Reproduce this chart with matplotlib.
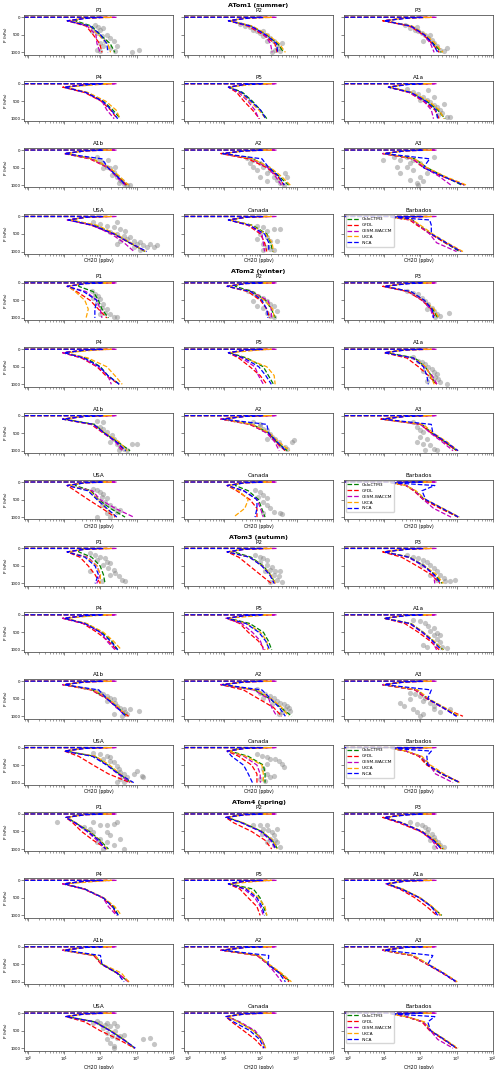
import matplotlib
matplotlib.use('Agg')
import matplotlib.pyplot as plt

# --- labels ---
SEASONS = ['ATom1 (summer)', 'ATom2 (winter)', 'ATom3 (autumn)', 'ATom4 (spring)']
REGIONS = ['P1', 'P2', 'P3', 'P4', 'P5', 'A1a', 'A1b', 'A2', 'A3', 'USA', 'Canada', 'Barbados']
MODELS = ['OsloCTM3', 'GFDL', 'CESM-WACCM', 'UKCA', 'INCA']
COLORS = ['g', 'r', 'm', 'orange', 'b']

# pressure levels (hPa) of the model profiles
P_LEVELS = [0, 1, 20, 100, 250, 500, 750, 1000]
X_START = 0.5                       # CH2O at model top
TOP_X = [80, 150, 280, 200, 120]    # CH2O at 1 hPa, per model

# model CH2O at 20, 100, 250, 500, 750, 1000 hPa, one row per region
OSLO_1 = [[32, 20, 57, 98, 186, 250], [40, 14, 55, 150, 300, 440], [40, 10, 55, 130, 230, 380],
          [60, 10, 40, 120, 220, 360], [40, 14, 32, 60, 100, 150], [40, 14, 55, 150, 300, 480],
          [40, 11, 60, 170, 300, 520], [40, 9, 60, 180, 330, 600], [40, 10, 70, 150, 450, 1400],
          [40, 14, 70, 250, 650, 1700], [40, 14, 60, 150, 190, 220], [15, 60, 90, 200, 480, 1200]]
GFDL_1 = [[40, 12, 40, 63, 95, 110], [40, 13, 45, 120, 250, 290], [40, 9, 50, 120, 210, 330],
          [40, 9, 36, 105, 190, 290], [40, 13, 22, 35, 60, 95], [40, 13, 48, 120, 250, 330],
          [40, 10, 50, 160, 280, 540], [40, 8, 45, 150, 300, 450], [40, 9, 60, 120, 400, 1750],
          [40, 13, 55, 230, 620, 1800], [40, 13, 45, 100, 130, 150], [15, 50, 80, 190, 480, 1400]]
CESM_1 = [[40, 13, 43, 75, 80, 98], [40, 13, 50, 130, 190, 210], [40, 10, 52, 125, 190, 240],
          [50, 10, 38, 110, 150, 240], [40, 13, 25, 45, 70, 90], [40, 13, 50, 125, 200, 230],
          [40, 10, 55, 165, 270, 480], [40, 9, 55, 160, 260, 380], [40, 9, 60, 130, 330, 700],
          [40, 12, 60, 200, 450, 850], [40, 13, 50, 110, 120, 130], [15, 55, 90, 180, 280, 1000]]
UKCA_1 = [[32, 16, 50, 88, 160, 190], [35, 15, 60, 160, 330, 490], [35, 11, 60, 140, 260, 420],
          [100, 11, 45, 140, 270, 350], [60, 14, 28, 50, 90, 140], [35, 15, 60, 170, 330, 450],
          [35, 12, 60, 180, 340, 600], [35, 10, 60, 190, 380, 670], [35, 10, 70, 150, 480, 1900],
          [35, 15, 80, 270, 700, 1800], [35, 15, 55, 140, 210, 230], [15, 60, 100, 220, 550, 1500]]
INCA_1 = [[50, 12, 52, 100, 150, 160], [50, 13, 55, 140, 280, 300], [50, 10, 55, 130, 220, 300],
          [50, 10, 40, 115, 200, 300], [40, 13, 30, 55, 100, 140], [50, 13, 55, 140, 270, 300],
          [40, 10, 110, 160, 290, 500], [40, 9, 110, 170, 320, 460], [40, 10, 180, 120, 420, 1600],
          [40, 13, 60, 240, 650, 1900], [40, 13, 50, 130, 170, 170], [15, 180, 200, 200, 520, 1300]]

OSLO_2 = [[25, 25, 63, 88, 110, 166], [30, 20, 60, 140, 200, 260], [40, 10, 50, 120, 220, 300],
          [50, 10, 40, 100, 160, 340], [40, 14, 42, 120, 166, 230], [30, 12, 70, 134, 200, 255],
          [30, 10, 70, 130, 300, 660], [35, 9, 60, 170, 280, 550], [35, 9, 110, 210, 480, 1000],
          [25, 20, 55, 88, 186, 480], [25, 20, 46, 88, 108, 134], [15, 40, 70, 130, 380, 1100]]
GFDL_2 = [[35, 12, 22, 52, 88, 150], [35, 12, 45, 100, 150, 180], [40, 9, 45, 110, 200, 260],
          [40, 9, 30, 80, 140, 330], [40, 13, 25, 51, 98, 150], [35, 10, 42, 88, 166, 283],
          [35, 9, 55, 120, 280, 450], [35, 8, 50, 160, 260, 480], [35, 8, 100, 200, 450, 1000],
          [35, 12, 20, 46, 110, 255], [35, 12, 22, 51, 80, 80], [15, 40, 65, 120, 350, 1100]]
CESM_2 = [[40, 12, 40, 80, 98, 110], [40, 12, 55, 160, 200, 200], [40, 10, 48, 115, 190, 230],
          [40, 9, 32, 85, 160, 200], [40, 13, 30, 70, 88, 121], [40, 10, 60, 130, 210, 290],
          [40, 9, 60, 125, 260, 400], [40, 8, 55, 150, 250, 330], [40, 9, 100, 190, 400, 800],
          [40, 12, 60, 98, 255, 830], [40, 12, 35, 80, 100, 120], [15, 40, 70, 120, 230, 700]]
UKCA_2 = [[35, 13, 20, 37, 46, 40], [35, 13, 55, 130, 220, 240], [35, 11, 52, 125, 240, 320],
          [80, 11, 45, 150, 250, 400], [100, 14, 37, 150, 240, 255], [35, 11, 65, 140, 190, 240],
          [35, 10, 65, 140, 330, 550], [35, 9, 60, 180, 320, 650], [35, 9, 120, 230, 550, 1100],
          [35, 13, 50, 85, 140, 280], [35, 13, 25, 46, 37, 18], [15, 40, 75, 140, 420, 1200]]
INCA_2 = [[40, 12, 34, 80, 70, 70], [40, 12, 55, 110, 150, 160], [50, 10, 55, 130, 210, 230],
          [40, 10, 35, 95, 160, 330], [40, 13, 35, 90, 140, 200], [40, 10, 64, 121, 150, 166],
          [40, 9, 65, 130, 280, 500], [40, 9, 150, 170, 290, 500], [40, 9, 200, 220, 500, 1100],
          [40, 12, 45, 80, 150, 283], [40, 12, 34, 80, 80, 71], [15, 250, 110, 140, 400, 1150]]

OSLO_3 = [[25, 25, 57, 98, 121, 134], [25, 18, 55, 120, 190, 260], [40, 10, 50, 130, 250, 400],
          [50, 10, 40, 110, 205, 300], [30, 13, 51, 121, 166, 205], [35, 10, 55, 120, 230, 430],
          [35, 10, 60, 160, 300, 550], [35, 9, 70, 180, 360, 740], [35, 9, 80, 160, 420, 1100],
          [30, 11, 70, 160, 330, 700], [25, 14, 46, 121, 134, 134], [15, 40, 100, 160, 380, 1200]]
GFDL_3 = [[35, 12, 27, 46, 71, 98], [35, 12, 25, 50, 100, 200], [40, 9, 30, 80, 200, 350],
          [40, 9, 33, 80, 166, 283], [40, 12, 27, 46, 88, 134], [35, 10, 37, 88, 186, 330],
          [35, 9, 55, 150, 280, 600], [35, 8, 34, 88, 230, 390], [35, 9, 70, 150, 400, 1500],
          [35, 10, 25, 63, 166, 660], [35, 12, 25, 57, 80, 80], [15, 40, 90, 150, 380, 1300]]
CESM_3 = [[40, 12, 45, 80, 98, 79], [40, 12, 50, 110, 180, 250], [40, 10, 45, 120, 230, 250],
          [40, 9, 36, 100, 150, 255], [40, 11, 30, 60, 100, 121], [40, 10, 50, 110, 210, 280],
          [40, 9, 60, 155, 280, 500], [40, 8, 65, 170, 205, 283], [40, 9, 75, 160, 400, 1000],
          [40, 10, 65, 150, 300, 650], [40, 12, 35, 80, 98, 100], [15, 40, 100, 180, 260, 800]]
UKCA_3 = [[35, 13, 40, 80, 100, 98], [35, 13, 50, 115, 190, 260], [35, 11, 50, 130, 280, 430],
          [80, 11, 42, 121, 230, 380], [100, 12, 42, 100, 150, 160], [35, 11, 55, 121, 240, 420],
          [35, 10, 65, 170, 320, 520], [35, 9, 80, 200, 390, 600], [35, 10, 85, 170, 470, 1200],
          [35, 11, 75, 180, 350, 750], [35, 13, 40, 110, 120, 120], [15, 40, 110, 190, 450, 1200]]
INCA_3 = [[40, 12, 37, 71, 88, 71], [40, 12, 50, 110, 180, 240], [50, 10, 48, 125, 240, 360],
          [40, 10, 37, 100, 190, 300], [40, 12, 40, 90, 140, 180], [45, 10, 52, 115, 220, 380],
          [40, 10, 90, 150, 290, 500], [40, 9, 110, 190, 330, 490], [40, 10, 200, 160, 420, 1000],
          [40, 10, 60, 150, 320, 830], [40, 12, 16, 34, 46, 60], [15, 200, 150, 160, 400, 1250]]

OSLO_4 = [[25, 12, 20, 50, 98, 166], [25, 12, 32, 110, 210, 300], [40, 10, 30, 110, 240, 420],
          [40, 10, 37, 121, 230, 316], [30, 14, 64, 98, 121, 150], [30, 12, 32, 98, 205, 390],
          [30, 10, 70, 110, 290, 600], [30, 9, 88, 166, 350, 680], [30, 9, 60, 160, 420, 950],
          [30, 12, 71, 186, 435, 900], [25, 13, 25, 64, 109, 140], [15, 40, 120, 190, 450, 1000]]
GFDL_4 = [[35, 11, 17, 30, 63, 150], [35, 11, 18, 57, 134, 205], [40, 9, 25, 100, 220, 380],
          [40, 9, 35, 115, 210, 290], [40, 13, 27, 46, 80, 98], [35, 11, 27, 71, 150, 283],
          [35, 9, 65, 105, 280, 620], [35, 8, 80, 160, 340, 620], [35, 9, 55, 150, 400, 1000],
          [35, 11, 37, 98, 316, 880], [35, 11, 16, 34, 71, 121], [15, 40, 110, 180, 430, 1000]]
CESM_4 = [[40, 11, 19, 42, 80, 140], [40, 11, 30, 100, 190, 260], [40, 10, 28, 105, 210, 300],
          [40, 9, 36, 118, 166, 280], [40, 13, 35, 70, 100, 120], [40, 11, 30, 95, 200, 350],
          [40, 9, 70, 110, 300, 580], [40, 8, 85, 160, 255, 390], [40, 9, 60, 160, 410, 950],
          [40, 11, 65, 180, 420, 900], [40, 12, 27, 71, 110, 135], [15, 40, 120, 190, 300, 800]]
UKCA_4 = [[35, 12, 21, 48, 95, 150], [35, 12, 33, 110, 220, 290], [35, 11, 32, 115, 260, 450],
          [100, 11, 38, 125, 250, 380], [100, 14, 46, 88, 134, 150], [35, 12, 33, 100, 215, 370],
          [35, 10, 72, 115, 380, 600], [35, 9, 90, 175, 380, 720], [35, 10, 65, 170, 450, 1050],
          [35, 12, 72, 200, 450, 850], [35, 12, 24, 62, 105, 140], [15, 40, 130, 200, 480, 1100]]
INCA_4 = [[40, 11, 20, 45, 90, 140], [40, 11, 30, 105, 200, 270], [50, 10, 30, 110, 230, 380],
          [40, 10, 37, 120, 215, 310], [40, 13, 40, 80, 110, 130], [40, 12, 30, 95, 200, 300],
          [40, 10, 100, 110, 290, 450], [40, 9, 170, 160, 330, 490], [40, 10, 220, 160, 420, 1000],
          [40, 11, 70, 185, 430, 920], [40, 11, 18, 51, 95, 125], [15, 250, 160, 190, 450, 1000]]

OBS_1 = {
    'P1': [(71, 217), (88, 264), (98, 358), (121, 311), (79, 453), (109, 547), (150, 500), (186, 594), (230, 688),
           (98, 735), (121, 830), (79, 924), (186, 877), (283, 830), (255, 971), (98, 971), (740, 1000),
           (1200, 924), (57, 405), (134, 688)],
    'P2': [(27, 189), (37, 245), (51, 264), (64, 358), (79, 405), (98, 453), (121, 547), (150, 500), (186, 594),
           (230, 688), (283, 783), (316, 877), (255, 924), (353, 971), (205, 1000), (150, 688), (121, 405), (390, 735)],
    'P3': [(37, 217), (51, 311), (71, 358), (88, 405), (109, 453), (134, 500), (166, 594), (205, 641), (230, 735),
           (283, 830), (353, 924), (435, 971), (537, 877), (121, 688), (186, 500), (79, 264)],
    'A1a': [(42, 141), (64, 236), (88, 283), (121, 377), (150, 472), (186, 519), (230, 613), (283, 660), (353, 754),
            (390, 849), (316, 896), (537, 943), (664, 962), (230, 377), (166, 189), (98, 472), (435, 566)],
    'A1b': [(79, 189), (98, 283), (121, 377), (150, 472), (186, 519), (230, 613), (205, 707), (283, 754), (353, 849),
            (316, 943), (435, 962), (537, 990), (664, 1000), (121, 519), (166, 283), (255, 472), (390, 896)],
    'A2': [(42, 236), (64, 283), (98, 377), (79, 566), (121, 472), (150, 660), (186, 566), (230, 754), (283, 849),
           (353, 943), (435, 990), (537, 754), (150, 896), (98, 754), (490, 660), (64, 472), (51, 377)],
    'A3': [(9.4, 283), (18, 189), (27, 283), (42, 189), (64, 283), (98, 377), (42, 472), (64, 566), (27, 660),
           (98, 754), (51, 849), (79, 943), (121, 896), (150, 660), (230, 189), (22, 472), (51, 377), (88, 990)],
    'USA': [(64, 169), (98, 216), (150, 263), (230, 310), (283, 169), (353, 357), (186, 451), (283, 498), (435, 545),
            (537, 639), (664, 592), (830, 686), (1020, 780), (1260, 733), (1550, 827), (1950, 874), (2400, 780),
            (2950, 874), (3630, 827), (353, 686), (283, 780), (830, 874), (1260, 968), (490, 404)],
    'Canada': [(79, 263), (121, 310), (150, 404), (230, 357), (353, 357), (98, 498), (150, 592), (186, 686),
               (121, 780), (150, 874), (186, 921), (230, 968), (121, 968), (283, 686), (79, 639)],
}
OBS_2 = {
    'P1': [(57, 235), (71, 329), (88, 376), (98, 470), (79, 564), (121, 611), (109, 705), (150, 752), (134, 846),
           (186, 893), (230, 968), (283, 987), (98, 893), (64, 423)],
    'P2': [(46, 235), (64, 282), (88, 376), (121, 423), (150, 517), (186, 611), (230, 658), (121, 705), (150, 846),
           (186, 940), (230, 987), (79, 658), (283, 799), (64, 517)],
    'P3': [(42, 235), (64, 282), (88, 329), (109, 423), (134, 517), (166, 611), (205, 705), (230, 799), (283, 893),
           (353, 940), (600, 865), (150, 752), (255, 987)],
    'A1a': [(64, 235), (88, 329), (109, 376), (134, 423), (166, 517), (205, 564), (230, 658), (186, 752), (255, 799),
            (316, 846), (353, 940), (537, 987), (121, 611), (150, 893), (283, 705)],
    'A1b': [(79, 141), (121, 188), (98, 329), (121, 376), (150, 470), (205, 564), (230, 658), (283, 799), (353, 893),
            (435, 940), (537, 987), (740, 799), (1020, 799), (186, 752), (316, 987)],
    'A2': [(64, 188), (98, 235), (98, 282), (121, 376), (150, 423), (186, 517), (205, 611), (255, 658), (316, 752),
           (353, 846), (490, 893), (740, 752), (830, 705), (537, 940), (150, 658)],
    'A3': [(64, 188), (79, 329), (98, 423), (121, 470), (98, 611), (150, 658), (121, 799), (186, 846), (230, 940),
           (283, 987), (79, 752), (134, 987)],
    'USA': [(64, 188), (79, 235), (98, 282), (121, 329), (109, 423), (150, 470), (134, 564), (186, 658), (230, 752),
            (283, 846), (353, 799), (150, 893), (186, 987), (79, 987), (109, 658)],
    'Canada': [(71, 235), (98, 282), (121, 376), (150, 470), (121, 564), (150, 658), (186, 752), (230, 846),
               (353, 893), (390, 921), (121, 893), (88, 423)],
}
OBS_3 = {
    'P1': [(51, 141), (71, 188), (98, 235), (134, 282), (150, 376), (186, 423), (121, 470), (166, 564), (230, 611),
           (255, 705), (186, 752), (316, 799), (390, 893), (490, 940), (51, 658), (109, 940), (79, 329)],
    'P2': [(71, 188), (98, 235), (121, 282), (150, 329), (98, 376), (150, 470), (205, 517), (186, 611), (255, 658),
           (230, 752), (316, 799), (283, 893), (390, 959), (186, 959), (134, 658), (353, 658)],
    'P3': [(42, 188), (64, 235), (88, 282), (121, 329), (150, 376), (186, 470), (230, 564), (283, 658), (353, 752),
           (435, 846), (490, 940), (664, 921), (910, 893), (186, 752), (109, 470), (283, 893)],
    'A1a': [(64, 141), (98, 188), (134, 235), (166, 329), (230, 376), (186, 470), (283, 517), (353, 564), (230, 583),
            (283, 677), (353, 771), (121, 865), (150, 912), (537, 959), (390, 912)],
    'A1b': [(79, 282), (98, 329), (121, 376), (150, 423), (186, 470), (230, 517), (255, 611), (283, 705), (353, 752),
            (435, 799), (490, 893), (537, 940), (390, 987), (664, 799), (1140, 846), (230, 940), (150, 564)],
    'A2': [(79, 235), (98, 329), (134, 376), (186, 423), (230, 470), (283, 564), (353, 611), (435, 658), (537, 705),
           (600, 752), (490, 799), (390, 893), (316, 940), (664, 846), (121, 470), (205, 658)],
    'A3': [(51, 329), (71, 376), (98, 423), (134, 470), (121, 564), (186, 611), (230, 705), (27, 611), (34, 705),
           (64, 799), (79, 893), (121, 940), (98, 996), (230, 799), (353, 893), (664, 799), (51, 517)],
    'USA': [(64, 141), (98, 188), (150, 235), (186, 282), (121, 329), (186, 376), (230, 423), (283, 517), (316, 611),
            (353, 705), (435, 752), (537, 846), (353, 893), (830, 752), (1020, 658), (1400, 799), (1550, 846),
            (283, 987), (435, 987)],
    'Canada': [(79, 188), (109, 235), (150, 282), (186, 329), (255, 329), (316, 376), (390, 470), (435, 564),
               (150, 470), (121, 611), (150, 752), (186, 846), (134, 940), (98, 893), (230, 799)],
}
OBS_4 = {
    'P1': [(6.1, 235), (34, 376), (51, 423), (64, 517), (98, 329), (150, 329), (230, 282), (283, 235), (150, 517),
           (186, 611), (98, 705), (79, 799), (150, 799), (230, 893), (121, 987), (435, 987), (353, 705), (64, 235)],
    'P2': [(64, 329), (98, 310), (150, 329), (121, 423), (166, 470), (205, 517), (230, 611), (186, 705), (255, 752),
           (283, 799), (230, 893), (353, 940), (150, 799), (109, 564), (283, 423)],
    'P3': [(51, 235), (79, 282), (109, 329), (134, 376), (166, 423), (150, 517), (205, 564), (230, 658), (255, 752),
           (316, 799), (353, 893), (435, 940), (230, 940), (186, 752)],
    'USA': [(64, 282), (98, 282), (150, 282), (230, 282), (186, 376), (121, 423), (283, 376), (255, 517), (150, 564),
            (205, 658), (283, 705), (186, 846), (230, 940), (353, 658), (435, 611), (1550, 752), (2400, 705),
            (2950, 893), (150, 752), (230, 996), (79, 235), (134, 329)],
}

MODEL_DATA = [[OSLO_1, GFDL_1, CESM_1, UKCA_1, INCA_1],
              [OSLO_2, GFDL_2, CESM_2, UKCA_2, INCA_2],
              [OSLO_3, GFDL_3, CESM_3, UKCA_3, INCA_3],
              [OSLO_4, GFDL_4, CESM_4, UKCA_4, INCA_4]]
OBS = [OBS_1, OBS_2, OBS_3, OBS_4]

fig, axes = plt.subplots(16, 3, figsize=(5, 10.69), dpi=100, sharex=True, sharey=True)
fig.subplots_adjust(left=0.0486, right=0.9854, top=0.986, bottom=0.0173, wspace=0.078, hspace=0.672)

for s in range(4):
    for r in range(12):
        ax = axes[s * 4 + r // 3, r % 3]
        obs = OBS[s].get(REGIONS[r])
        if obs:
            xs = [o[0] for o in obs]
            ps = [o[1] for o in obs]
            ax.scatter(xs, ps, s=14, c='grey', alpha=0.45, linewidths=0, zorder=1)
        for m in range(5):
            x = [X_START, TOP_X[m]] + MODEL_DATA[s][m][r]
            ax.plot(x, P_LEVELS, ls='--', color=COLORS[m], lw=0.9, label=MODELS[m], zorder=2)
        ax.set_title(REGIONS[r], fontsize=4.1, pad=1.8)
        if r % 3 == 0:
            ax.set_ylabel('P (hPa)', fontsize=3, labelpad=1.5)
        if r >= 9:
            ax.set_xlabel('CH2O (ppbv)', fontsize=3.3, labelpad=0.5 if s == 3 else 1.0)
        if r == 11:
            ax.legend(loc='upper left', fontsize=3.2, handlelength=2.6, handletextpad=0.6,
                      labelspacing=0.4, borderaxespad=0.3, borderpad=0.4)
        for sp in ax.spines.values():
            sp.set_color('#555555')
            sp.set_linewidth(0.6)
        ax.tick_params(which='major', labelsize=2.8, length=2, width=0.5, pad=1, color='#555555')
        ax.tick_params(which='minor', length=1.2, width=0.4, color='#555555')
    mid = axes[s * 4, 1].get_position()
    fig.text((mid.x0 + mid.x1) / 2, mid.y1 + 9 / 1069, SEASONS[s], ha='center', va='center',
             fontsize=4.6, fontweight='bold')

ax0 = axes[0, 0]
ax0.set_xscale('log')
ax0.set_xlim(0.78, 1e4)
ax0.set_ylim(1066, -66)
ax0.set_yticks([0, 500, 1000])

fig.savefig('out.png', dpi=100)
